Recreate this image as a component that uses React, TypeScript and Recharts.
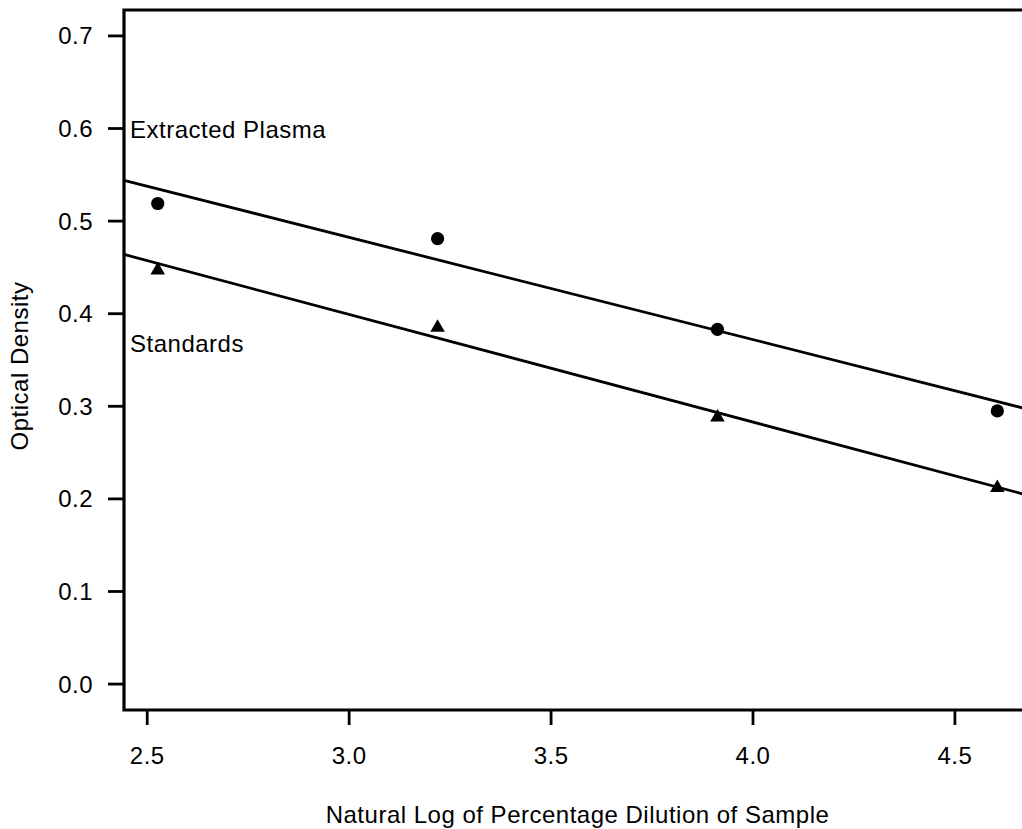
import * as React from "react"
import { ScatterChart, Scatter, XAxis, YAxis, ReferenceArea, ReferenceLine, ReferenceDot, Label } from "recharts"

// ln(% dilution) for 12.5, 25, 50, 100 %
const dilutions = [2.526, 3.219, 3.912, 4.605]
const plasmaOD = [0.519, 0.481, 0.383, 0.295]
const standardsOD = [0.447, 0.385, 0.288, 0.212]

// fitted lines, read at the left and right edge of the plot box
const fitX = [2.4425, 4.6884]
const plasmaFit = [0.544, 0.296]
const standardsFit = [0.464, 0.203]

const xTicks = [2.5, 3.0, 3.5, 4.0, 4.5]
const yTicks = [0.0, 0.1, 0.2, 0.3, 0.4, 0.5, 0.6, 0.7]

const xDomain = [2.4425, 4.6884]
const yDomain = [-0.028, 0.728]

const plasmaData = dilutions.map((x, i) => ({ x, y: plasmaOD[i] }))
const standardsData = dilutions.map((x, i) => ({ x, y: standardsOD[i] }))

const FONT = "'Liberation Sans', Arial, Helvetica, sans-serif"
const textStyle = { fontFamily: FONT, fontSize: 24, fill: "#000", letterSpacing: 0.5 }

const Dot = (props: any) => <circle cx={props.cx} cy={props.cy} r={6.6} fill="#000" />

const Triangle = (props: any) => {
  const { cx, cy } = props
  const r = 8.4
  const hw = r * Math.sqrt(3) / 2
  return <polygon points={`${cx},${cy - r} ${cx - hw},${cy + r / 2} ${cx + hw},${cy + r / 2}`} fill="#000" />
}

const textLabel = (value: string) => (props: any) => {
  const { x, y } = props.viewBox
  return <text x={x} y={y} {...textStyle}>{value}</text>
}

export default function App() {
  return (
    <div style={{ position: "absolute", left: 0, top: 0, width: 1022, height: 829, overflow: "hidden", background: "#fff" }}>
      <ScatterChart width={1051} height={829} margin={{ top: 10, right: 20, bottom: 0, left: 0 }}>
        <XAxis
          type="number"
          dataKey="x"
          domain={xDomain}
          allowDataOverflow
          ticks={xTicks}
          tickFormatter={(v: number) => v.toFixed(1)}
          height={119}
          axisLine={false}
          tickSize={15}
          tickMargin={22}
          tickLine={{ stroke: "#000", strokeWidth: 2.8 }}
          tick={textStyle}
        >
          <Label value="Natural Log of Percentage Dilution of Sample" position="insideBottom" offset={6} style={textStyle} />
        </XAxis>
        <YAxis
          type="number"
          dataKey="y"
          domain={yDomain}
          allowDataOverflow
          ticks={yTicks}
          tickFormatter={(v: number) => v.toFixed(1)}
          width={124}
          axisLine={false}
          tickSize={16}
          tickMargin={15}
          tickLine={{ stroke: "#000", strokeWidth: 2.8 }}
          tick={textStyle}
        >
          <Label
            content={() => (
              <text x={28} y={366} transform="rotate(-90 28 366)" textAnchor="middle" {...textStyle}>
                Optical Density
              </text>
            )}
          />
        </YAxis>
        <ReferenceArea
          x1={xDomain[0]}
          x2={xDomain[1]}
          y1={yDomain[0]}
          y2={yDomain[1]}
          fill="none"
          fillOpacity={0}
          stroke="#000"
          strokeWidth={3.2}
        />
        <ReferenceLine
          segment={[{ x: fitX[0], y: plasmaFit[0] }, { x: fitX[1], y: plasmaFit[1] }]}
          stroke="#000"
          strokeWidth={2.8}
        />
        <ReferenceLine
          segment={[{ x: fitX[0], y: standardsFit[0] }, { x: fitX[1], y: standardsFit[1] }]}
          stroke="#000"
          strokeWidth={2.8}
        />
        <ReferenceDot x={2.4574} y={0.5896} r={0} stroke="none" label={textLabel("Extracted Plasma")} />
        <ReferenceDot x={2.4574} y={0.3589} r={0} stroke="none" label={textLabel("Standards")} />
        <Scatter data={plasmaData} shape={Dot} isAnimationActive={false} />
        <Scatter data={standardsData} shape={Triangle} isAnimationActive={false} />
      </ScatterChart>
    </div>
  )
}
